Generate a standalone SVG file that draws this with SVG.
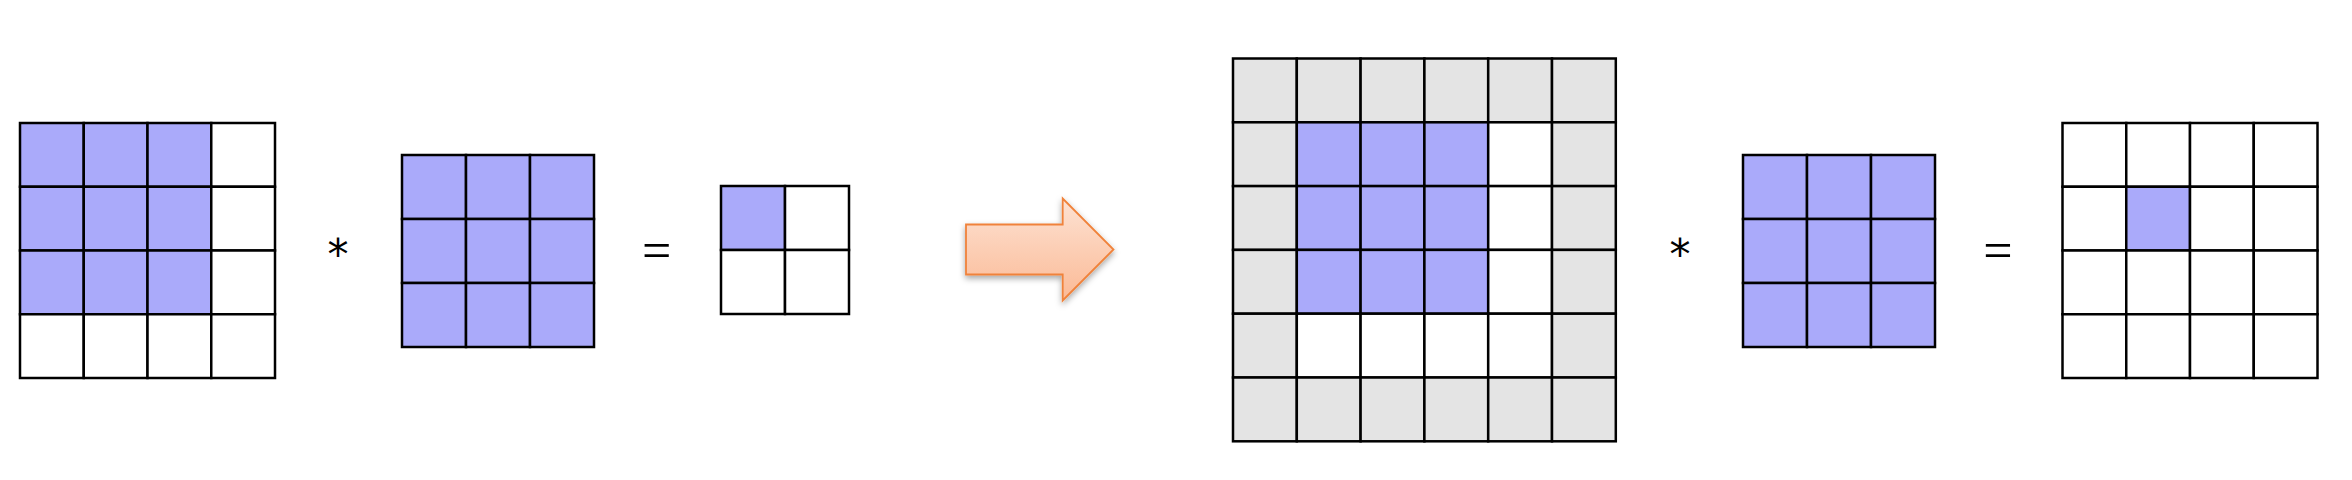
<svg xmlns="http://www.w3.org/2000/svg" width="2352" height="480" viewBox="0 0 2352 480">
<defs>
<style>
.c{stroke:#000;stroke-width:2.5}
.b{fill:#aaaafa}
.w{fill:#fff}
.g{fill:#e4e4e4}
.op{font-family:"DejaVu Sans",sans-serif;font-size:42px;fill:#000;text-anchor:middle}
.eq{font-family:"Liberation Serif",serif;font-size:52px;fill:#000;text-anchor:middle}
</style>
<linearGradient id="ag" x1="0" y1="0" x2="0" y2="1">
<stop offset="0" stop-color="#fde2d3"/>
<stop offset="1" stop-color="#fbba96"/>
</linearGradient>
<filter id="sh" x="-20%" y="-20%" width="140%" height="150%">
<feDropShadow dx="0" dy="3" stdDeviation="3" flood-color="#000" flood-opacity="0.35"/>
</filter>
</defs>
<rect width="2352" height="480" fill="#fff"/>

<g id="input4x4">
<rect class="c b" x="20" y="123" width="63.75" height="63.75"/>
<rect class="c b" x="83.75" y="123" width="63.75" height="63.75"/>
<rect class="c b" x="147.5" y="123" width="63.75" height="63.75"/>
<rect class="c w" x="211.25" y="123" width="63.75" height="63.75"/>
<rect class="c b" x="20" y="186.75" width="63.75" height="63.75"/>
<rect class="c b" x="83.75" y="186.75" width="63.75" height="63.75"/>
<rect class="c b" x="147.5" y="186.75" width="63.75" height="63.75"/>
<rect class="c w" x="211.25" y="186.75" width="63.75" height="63.75"/>
<rect class="c b" x="20" y="250.5" width="63.75" height="63.75"/>
<rect class="c b" x="83.75" y="250.5" width="63.75" height="63.75"/>
<rect class="c b" x="147.5" y="250.5" width="63.75" height="63.75"/>
<rect class="c w" x="211.25" y="250.5" width="63.75" height="63.75"/>
<rect class="c w" x="20" y="314.25" width="63.75" height="63.75"/>
<rect class="c w" x="83.75" y="314.25" width="63.75" height="63.75"/>
<rect class="c w" x="147.5" y="314.25" width="63.75" height="63.75"/>
<rect class="c w" x="211.25" y="314.25" width="63.75" height="63.75"/>
</g>

<g id="op-star-1"><text class="op" x="338" y="269">*</text></g>

<g id="kernel-1">
<rect class="c b" x="402" y="155" width="64" height="64"/>
<rect class="c b" x="466" y="155" width="64" height="64"/>
<rect class="c b" x="530" y="155" width="64" height="64"/>
<rect class="c b" x="402" y="219" width="64" height="64"/>
<rect class="c b" x="466" y="219" width="64" height="64"/>
<rect class="c b" x="530" y="219" width="64" height="64"/>
<rect class="c b" x="402" y="283" width="64" height="64"/>
<rect class="c b" x="466" y="283" width="64" height="64"/>
<rect class="c b" x="530" y="283" width="64" height="64"/>
</g>

<g id="op-eq-1"><text class="eq" x="656.7" y="268">=</text></g>

<g id="output2x2">
<rect class="c b" x="721" y="186" width="64" height="64"/>
<rect class="c w" x="785" y="186" width="64" height="64"/>
<rect class="c w" x="721" y="250" width="64" height="64"/>
<rect class="c w" x="785" y="250" width="64" height="64"/>
</g>

<g id="connectors">
<polygon points="966,224.5 1062.7,224.5 1062.7,198.5 1113.5,249.5 1062.7,300.5 1062.7,274.5 966,274.5" fill="url(#ag)" stroke="#f0823a" stroke-width="1.8" stroke-linejoin="miter" filter="url(#sh)"/>
</g>

<g id="padded6x6">
<rect class="c g" x="1233" y="58.5" width="63.8" height="63.8"/>
<rect class="c g" x="1296.8" y="58.5" width="63.8" height="63.8"/>
<rect class="c g" x="1360.6" y="58.5" width="63.8" height="63.8"/>
<rect class="c g" x="1424.4" y="58.5" width="63.8" height="63.8"/>
<rect class="c g" x="1488.2" y="58.5" width="63.8" height="63.8"/>
<rect class="c g" x="1552" y="58.5" width="63.8" height="63.8"/>
<rect class="c g" x="1233" y="122.3" width="63.8" height="63.8"/>
<rect class="c b" x="1296.8" y="122.3" width="63.8" height="63.8"/>
<rect class="c b" x="1360.6" y="122.3" width="63.8" height="63.8"/>
<rect class="c b" x="1424.4" y="122.3" width="63.8" height="63.8"/>
<rect class="c w" x="1488.2" y="122.3" width="63.8" height="63.8"/>
<rect class="c g" x="1552" y="122.3" width="63.8" height="63.8"/>
<rect class="c g" x="1233" y="186.1" width="63.8" height="63.8"/>
<rect class="c b" x="1296.8" y="186.1" width="63.8" height="63.8"/>
<rect class="c b" x="1360.6" y="186.1" width="63.8" height="63.8"/>
<rect class="c b" x="1424.4" y="186.1" width="63.8" height="63.8"/>
<rect class="c w" x="1488.2" y="186.1" width="63.8" height="63.8"/>
<rect class="c g" x="1552" y="186.1" width="63.8" height="63.8"/>
<rect class="c g" x="1233" y="249.9" width="63.8" height="63.8"/>
<rect class="c b" x="1296.8" y="249.9" width="63.8" height="63.8"/>
<rect class="c b" x="1360.6" y="249.9" width="63.8" height="63.8"/>
<rect class="c b" x="1424.4" y="249.9" width="63.8" height="63.8"/>
<rect class="c w" x="1488.2" y="249.9" width="63.8" height="63.8"/>
<rect class="c g" x="1552" y="249.9" width="63.8" height="63.8"/>
<rect class="c g" x="1233" y="313.7" width="63.8" height="63.8"/>
<rect class="c w" x="1296.8" y="313.7" width="63.8" height="63.8"/>
<rect class="c w" x="1360.6" y="313.7" width="63.8" height="63.8"/>
<rect class="c w" x="1424.4" y="313.7" width="63.8" height="63.8"/>
<rect class="c w" x="1488.2" y="313.7" width="63.8" height="63.8"/>
<rect class="c g" x="1552" y="313.7" width="63.8" height="63.8"/>
<rect class="c g" x="1233" y="377.5" width="63.8" height="63.8"/>
<rect class="c g" x="1296.8" y="377.5" width="63.8" height="63.8"/>
<rect class="c g" x="1360.6" y="377.5" width="63.8" height="63.8"/>
<rect class="c g" x="1424.4" y="377.5" width="63.8" height="63.8"/>
<rect class="c g" x="1488.2" y="377.5" width="63.8" height="63.8"/>
<rect class="c g" x="1552" y="377.5" width="63.8" height="63.8"/>
</g>

<g id="op-star-2"><text class="op" x="1680" y="269">*</text></g>

<g id="kernel-2">
<rect class="c b" x="1743" y="155" width="64" height="64"/>
<rect class="c b" x="1807" y="155" width="64" height="64"/>
<rect class="c b" x="1871" y="155" width="64" height="64"/>
<rect class="c b" x="1743" y="219" width="64" height="64"/>
<rect class="c b" x="1807" y="219" width="64" height="64"/>
<rect class="c b" x="1871" y="219" width="64" height="64"/>
<rect class="c b" x="1743" y="283" width="64" height="64"/>
<rect class="c b" x="1807" y="283" width="64" height="64"/>
<rect class="c b" x="1871" y="283" width="64" height="64"/>
</g>

<g id="op-eq-2"><text class="eq" x="1998" y="268">=</text></g>

<g id="output4x4">
<rect class="c w" x="2062.5" y="123" width="63.75" height="63.75"/>
<rect class="c w" x="2126.25" y="123" width="63.75" height="63.75"/>
<rect class="c w" x="2190" y="123" width="63.75" height="63.75"/>
<rect class="c w" x="2253.75" y="123" width="63.75" height="63.75"/>
<rect class="c w" x="2062.5" y="186.75" width="63.75" height="63.75"/>
<rect class="c b" x="2126.25" y="186.75" width="63.75" height="63.75"/>
<rect class="c w" x="2190" y="186.75" width="63.75" height="63.75"/>
<rect class="c w" x="2253.75" y="186.75" width="63.75" height="63.75"/>
<rect class="c w" x="2062.5" y="250.5" width="63.75" height="63.75"/>
<rect class="c w" x="2126.25" y="250.5" width="63.75" height="63.75"/>
<rect class="c w" x="2190" y="250.5" width="63.75" height="63.75"/>
<rect class="c w" x="2253.75" y="250.5" width="63.75" height="63.75"/>
<rect class="c w" x="2062.5" y="314.25" width="63.75" height="63.75"/>
<rect class="c w" x="2126.25" y="314.25" width="63.75" height="63.75"/>
<rect class="c w" x="2190" y="314.25" width="63.75" height="63.75"/>
<rect class="c w" x="2253.75" y="314.25" width="63.75" height="63.75"/>
</g>
</svg>
